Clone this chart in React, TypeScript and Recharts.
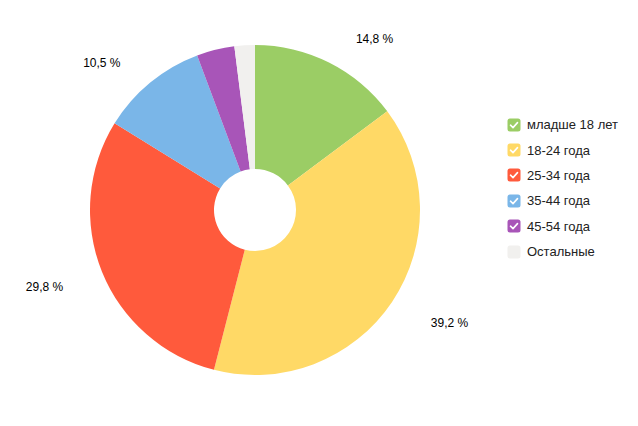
import React from "react";
import { PieChart, Pie, Cell } from "recharts";

const categories = ["младше 18 лет", "18-24 года", "25-34 года", "35-44 года", "45-54 года", "Остальные"];
const shares = [14.8, 39.2, 29.8, 10.5, 3.7, 2.0];
const colors = ["#9bcd65", "#ffd966", "#ff5a3c", "#7ab6e8", "#a855b8", "#f1f0ee"];

const data = categories.map((name, i) => ({ name, value: shares[i] }));

const RAD = Math.PI / 180;
const FONT = "Arial, 'Liberation Sans', sans-serif";

// labels sit at a fixed distance from the centre, aligned away from the pie
function renderLabel(props: any) {
  const { cx, cy, midAngle, value } = props;
  if (value < 10) return null;
  const r = 196;
  const cos = Math.cos(-midAngle * RAD);
  const right = cos >= 0;
  const x = cx + r * cos + (right ? 13 : -10);
  const y = cy + r * Math.sin(-midAngle * RAD) + 4;
  return (
    <text
      x={x}
      y={y}
      textAnchor={right ? "start" : "end"}
      dominantBaseline="central"
      fill="#000"
      fontSize={12}
      fontFamily={FONT}
    >
      {value.toFixed(1).replace(".", ",")} %
    </text>
  );
}

function LegendBox() {
  return (
    <div style={{ position: "absolute", left: 507, top: 112, fontFamily: FONT, fontSize: 13, color: "#222" }}>
      {data.map((d, i) => (
        <div key={d.name} style={{ display: "flex", alignItems: "center", height: 25.4 }}>
          <svg width={14} height={14} style={{ marginRight: 6 }}>
            <rect x={0.5} y={0.5} width={13} height={13} rx={2.5} fill={colors[i]} />
            {i < 5 && (
              <path d="M3.5 7.2 L6 9.6 L10.5 4.6" stroke="#fff" strokeWidth={1.6} fill="none" strokeLinecap="round" strokeLinejoin="round" />
            )}
          </svg>
          <span>{d.name}</span>
        </div>
      ))}
    </div>
  );
}

export default function App() {
  return (
    <div style={{ position: "absolute", left: 0, top: 0, width: 638, height: 426, background: "#fff" }}>
      <PieChart width={638} height={426} margin={{ top: 0, right: 0, bottom: 0, left: 0 }}>
        <Pie
          data={data}
          dataKey="value"
          nameKey="name"
          cx={255}
          cy={210}
          innerRadius={41}
          outerRadius={165}
          startAngle={90}
          endAngle={-270}
          stroke="none"
          label={renderLabel}
          labelLine={false}
          isAnimationActive={false}
        >
          {data.map((d, i) => (
            <Cell key={d.name} fill={colors[i]} />
          ))}
        </Pie>
      </PieChart>
      <LegendBox />
    </div>
  );
}
